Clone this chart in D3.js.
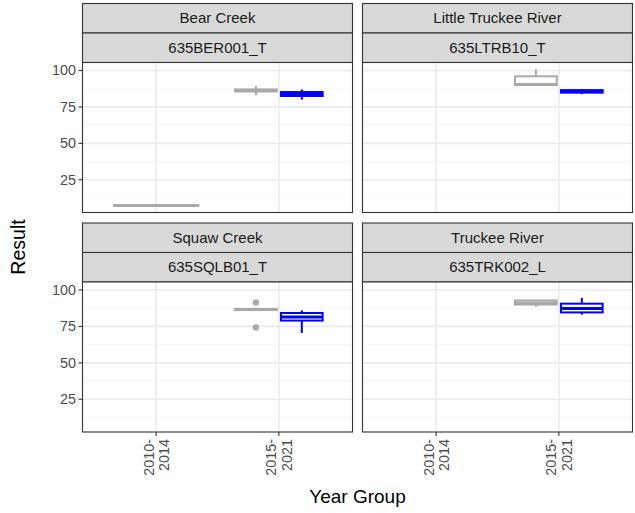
<!DOCTYPE html>
<html><head><meta charset="utf-8">
<script src="https://cdn.jsdelivr.net/npm/d3@7"></script>
<style>body{margin:0;background:#fff;} text{font-family:"Liberation Sans",Arial,sans-serif;}</style>
</head><body><svg id="c" width="635" height="513"></svg>
<script>
const sites = ["Bear Creek","Little Truckee River","Squaw Creek","Truckee River"];
const stations = ["635BER001_T","635LTRB10_T","635SQLB01_T","635TRK002_L"];
const yearGroups = ["2010-2014","2015-2021"];
const seriesColors = ["#A9A9A9","#0000FF"];
const yTicks = [25,50,75,100];
const yMinor = [12.5,37.5,62.5,87.5];

// one entry per box
const boxSite   = [0,0,0,1,1,2,2,3,3];
const boxYear   = [0,1,1,1,1,1,1,1,1];
const boxSeries = [0,0,1,0,1,0,1,0,1];
const boxMin    = [7.2,83.0,80.0,90.0,83.7,86.0,70.5,88.5,83.0];
const boxQ1     = [7.3,85.6,82.5,90.0,84.8,86.2,79.0,90.0,84.6];
const boxMed    = [7.4,86.2,83.5,90.4,85.8,86.6,81.5,91.0,87.3];
const boxQ3     = [7.5,87.0,85.2,96.0,86.5,87.0,84.2,92.8,90.6];
const boxMax    = [7.6,89.5,87.0,100.8,87.2,87.2,86.0,93.2,94.6];
const outSite   = [2,2];
const outSeries = [0,0];
const outYear   = [1,1];
const outValue  = [91.4,74.3];

const svg = d3.select("#c");
const W = 270, H = 150;
const colX = [82.5, 362.5];
const rowY = [62.5, 282];
const stripH = 29.5;

const allVals = boxMin.concat(boxMax, outValue);
const lo = d3.min(allVals), hi = d3.max(allVals), r = hi - lo;
const y = d3.scaleLinear().domain([lo - 0.05*r, hi + 0.05*r]).range([H, 0]);
const x = d3.scalePoint().domain(yearGroups).range([0, W]).padding(0.6);
const step = x.step();

sites.forEach((site, i) => {
  const col = i % 2, row = Math.floor(i / 2);
  const g = svg.append("g").attr("transform", `translate(${colX[col]},${rowY[row]})`);
  [[site, -2*stripH],[stations[i], -stripH]].forEach(([t, off]) => {
    g.append("rect").attr("x", 0).attr("y", off).attr("width", W).attr("height", stripH)
      .attr("fill", "#D9D9D9").attr("stroke", "#333333").attr("stroke-width", 1.1);
    g.append("text").attr("x", W/2).attr("y", off + stripH/2 + 5.2).attr("text-anchor", "middle")
      .attr("font-size", 15).attr("fill", "#1A1A1A").text(t);
  });
  g.append("rect").attr("width", W).attr("height", H).attr("fill", "#fff");
  yMinor.forEach(v => g.append("line").attr("x1", 0).attr("x2", W).attr("y1", y(v)).attr("y2", y(v))
    .attr("stroke", "#F4F4F4").attr("stroke-width", 0.8));
  yTicks.forEach(v => g.append("line").attr("x1", 0).attr("x2", W).attr("y1", y(v)).attr("y2", y(v))
    .attr("stroke", "#EBEBEB").attr("stroke-width", 1.6));
  yearGroups.forEach(v => g.append("line").attr("x1", x(v)).attr("x2", x(v)).attr("y1", 0).attr("y2", H)
    .attr("stroke", "#EBEBEB").attr("stroke-width", 1.6));

  const idx = d3.range(boxSite.length).filter(k => boxSite[k] === i);
  idx.forEach(k => {
    const yr = yearGroups[boxYear[k]];
    const same = idx.filter(j => boxYear[j] === boxYear[k]);
    let cx, bw;
    if (same.length === 1) { cx = x(yr); bw = 0.69*step; }
    else { const pos = same.indexOf(k);
      cx = x(yr) + (pos === 0 ? -1 : 1)*0.187*step; bw = 0.34*step; }
    const c = seriesColors[boxSeries[k]];
    const bg = g.append("g").attr("stroke", c).attr("stroke-width", 2).attr("fill", "#fff");
    bg.append("line").attr("x1", cx).attr("x2", cx).attr("y1", y(boxMax[k])).attr("y2", y(boxQ3[k]));
    bg.append("line").attr("x1", cx).attr("x2", cx).attr("y1", y(boxQ1[k])).attr("y2", y(boxMin[k]));
    bg.append("rect").attr("x", cx - bw/2).attr("width", bw)
      .attr("y", y(boxQ3[k])).attr("height", Math.max(0, y(boxQ1[k]) - y(boxQ3[k])));
    bg.append("line").attr("x1", cx - bw/2).attr("x2", cx + bw/2).attr("y1", y(boxMed[k])).attr("y2", y(boxMed[k]))
      .attr("stroke-width", 3);
    outValue.forEach((v, m) => {
      if (outSite[m] === i && outSeries[m] === boxSeries[k] && outYear[m] === boxYear[k])
        g.append("circle").attr("cx", cx).attr("cy", y(v)).attr("r", 3.2).attr("fill", c);
    });
  });
  g.append("rect").attr("width", W).attr("height", H).attr("fill", "none").attr("stroke", "#333333").attr("stroke-width", 1.1);

  if (col === 0) {
    yTicks.forEach(v => {
      g.append("line").attr("x1", -4).attr("x2", 0).attr("y1", y(v)).attr("y2", y(v)).attr("stroke", "#333333").attr("stroke-width", 1.1);
      g.append("text").attr("x", -6.5).attr("y", y(v) + 5).attr("text-anchor", "end")
        .attr("font-size", 14.4).attr("fill", "#4D4D4D").text(v);
    });
  }
  if (row === 1) {
    yearGroups.forEach(v => {
      g.append("line").attr("x1", x(v)).attr("x2", x(v)).attr("y1", H).attr("y2", H + 4).attr("stroke", "#333333").attr("stroke-width", 1.1);
      const parts = v.split("-");
      const t = g.append("text").attr("transform", `translate(${x(v)},${H + 7}) rotate(-90)`)
        .attr("text-anchor", "end").attr("font-size", 14.4).attr("fill", "#4D4D4D");
      t.append("tspan").attr("x", 0).attr("y", -2.5).text(parts[0] + "-");
      t.append("tspan").attr("x", 0).attr("y", 13).text(parts[1]);
    });
  }
});

svg.append("text").attr("transform", "translate(25,247) rotate(-90)").attr("text-anchor", "middle")
  .attr("font-size", 19.5).attr("fill", "#000").text("Result");
svg.append("text").attr("x", 357.5).attr("y", 503).attr("text-anchor", "middle")
  .attr("font-size", 19).attr("fill", "#000").text("Year Group");
</script></body></html>
